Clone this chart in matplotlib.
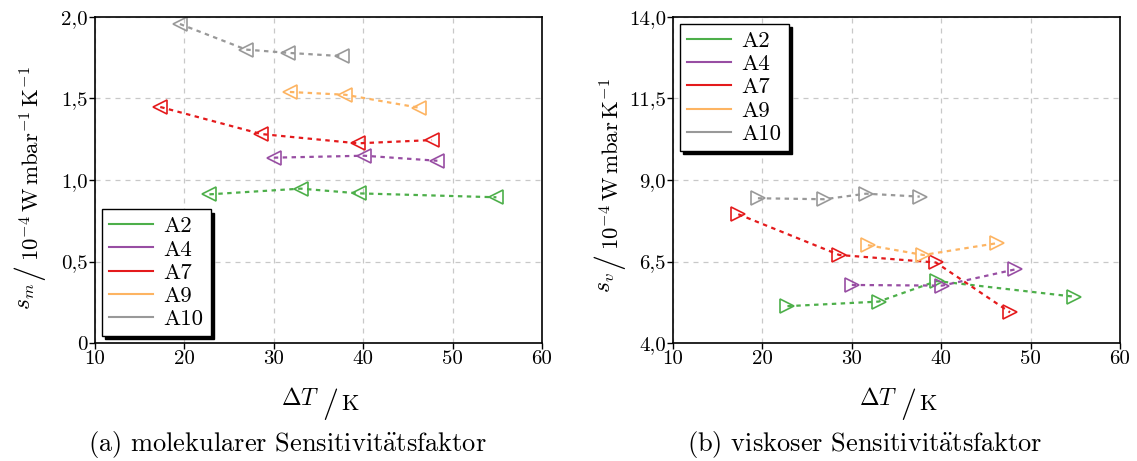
import numpy as np
import matplotlib
matplotlib.use("Agg")
import matplotlib.pyplot as plt
from matplotlib.transforms import IdentityTransform

plt.rcParams['font.family'] = ['cmr10', 'DejaVu Serif']
plt.rcParams['mathtext.fontset'] = 'cm'
plt.rcParams['axes.unicode_minus'] = False

labels = ["A2", "A4", "A7", "A9", "A10"]
colors = ["#4daf4a", "#984ea3", "#e41a1c", "#fdb462", "#999999"]

# delta T per sample (K)
dT_A2 = [22.8, 33.0, 39.5, 54.9]
dT_A4 = [30.0, 40.1, 48.3]
dT_A7 = [17.3, 28.6, 39.4, 47.7]
dT_A9 = [31.8, 38.0, 46.2]
dT_A10 = [19.5, 26.9, 31.6, 37.6]

# molecular sensitivity factor s_m
sm_A2 = [0.912, 0.947, 0.918, 0.894]
sm_A4 = [1.137, 1.149, 1.118]
sm_A7 = [1.448, 1.282, 1.225, 1.245]
sm_A9 = [1.540, 1.523, 1.444]
sm_A10 = [1.957, 1.800, 1.780, 1.760]

# viscous sensitivity factor s_v
sv_A2 = [5.13, 5.27, 5.90, 5.42]
sv_A4 = [5.78, 5.76, 6.26]
sv_A7 = [7.95, 6.70, 6.47, 4.94]
sv_A9 = [7.00, 6.70, 7.06]
sv_A10 = [8.44, 8.41, 8.58, 8.49]

dT = [dT_A2, dT_A4, dT_A7, dT_A9, dT_A10]
sm = [sm_A2, sm_A4, sm_A7, sm_A9, sm_A10]
sv = [sv_A2, sv_A4, sv_A7, sv_A9, sv_A10]

W, H = 1137, 461
fig = plt.figure(figsize=(W / 100, H / 100), dpi=100)
ax1 = fig.add_axes([95/W, 118/H, 447/W, 326/H])
ax2 = fig.add_axes([673/W, 118/H, 447/W, 326/H])
renderer = fig.canvas.get_renderer()


def split_label(parts, centre, base, vertical=False, gap=3):
    # parts: (text, fontsize, raise in px); centre along reading direction, base = baseline (px from top/left)
    objs = []
    for s, size, _ in parts:
        objs.append(fig.text(0, 0, s, fontsize=size, rotation=90 if vertical else 0,
                             rotation_mode="anchor", ha="left", va="baseline",
                             transform=IdentityTransform()))
    ext = [t.get_window_extent(renderer) for t in objs]
    lens = [e.height if vertical else e.width for e in ext]
    total = sum(lens) + gap * (len(parts) - 1)
    if vertical:
        pos = (H - centre) - total / 2
    else:
        pos = centre - total / 2
    for t, n, (_, _, up) in zip(objs, lens, parts):
        if vertical:
            t.set_position((base - up, pos))
        else:
            t.set_position((pos, H - base + up))
        pos += n + gap


def style(ax, yticks, yticklabels):
    ax.set_xlim(10, 60)
    ax.set_xticks([10, 20, 30, 40, 50, 60])
    ax.set_xticklabels(["10", "20", "30", "40", "50", "60"])
    ax.set_ylim(yticks[0], yticks[-1])
    ax.set_yticks(yticks)
    ax.set_yticklabels(yticklabels)
    ax.grid(True, color="#c8c8c8", linestyle=(0, (4, 4)), linewidth=0.9)
    ax.tick_params(labelsize=15, direction="out", length=4, width=1, pad=1)
    for s in ax.spines.values():
        s.set_linewidth(1.2)


def legend(ax, loc):
    ax.legend(loc=loc, fontsize=16.5, fancybox=False, framealpha=1, edgecolor="black",
              borderaxespad=0.3, handlelength=1.95, handletextpad=0.45, labelspacing=0.14,
              borderpad=0.3,
              shadow={"color": "black", "alpha": 1, "ox": 2.3, "oy": -2.3})


for x, y, c, l in zip(dT, sm, colors, labels):
    ax1.plot(x, y, linestyle=(0, (2, 2)), color=c, linewidth=1.6)
    ax1.plot(x, y, linestyle="none", marker="<", markersize=10, markerfacecolor="none",
             markeredgecolor=c, markeredgewidth=1.2)
    ax1.plot([], [], color=c, linewidth=1.5, label=l)
style(ax1, [0, 0.5, 1.0, 1.5, 2.0], ["0", "0,5", "1,0", "1,5", "2,0"])
legend(ax1, "lower left")

for x, y, c, l in zip(dT, sv, colors, labels):
    ax2.plot(x, y, linestyle=(0, (2, 2)), color=c, linewidth=1.6)
    ax2.plot(x, y, linestyle="none", marker=">", markersize=10, markerfacecolor="none",
             markeredgecolor=c, markeredgewidth=1.2)
    ax2.plot([], [], color=c, linewidth=1.5, label=l)
style(ax2, [4.0, 6.5, 9.0, 11.5, 14.0], ["4,0", "6,5", "9,0", "11,5", "14,0"])
legend(ax2, "upper left")

# axis labels: quantity raised, big slash, unit
for cx in (320, 898):
    split_label([(r"$\Delta T$", 17, 7), ("/", 23, 0), ("K", 16, 2)], cx, 412)
split_label([(r"$s_m$", 17, 9), ("/", 23, 4),
             (r"$10^{-4}\,\mathrm{W\,mbar^{-1}\,K^{-1}}$", 16.5, 0)], 188, 40, vertical=True)
split_label([(r"$s_v$", 17, 9), ("/", 23, 4),
             (r"$10^{-4}\,\mathrm{W\,mbar\,K^{-1}}$", 16.5, 0)], 186, 620, vertical=True)

fig.text(287/W, 1 - 451/H, r"(a) molekularer Sensitivit$\ddot{\mathrm{a}}$tsfaktor",
         ha="center", va="baseline", fontsize=19)
fig.text(865/W, 1 - 451/H, r"(b) viskoser Sensitivit$\ddot{\mathrm{a}}$tsfaktor",
         ha="center", va="baseline", fontsize=19)

fig.savefig("out.png", dpi=100)
